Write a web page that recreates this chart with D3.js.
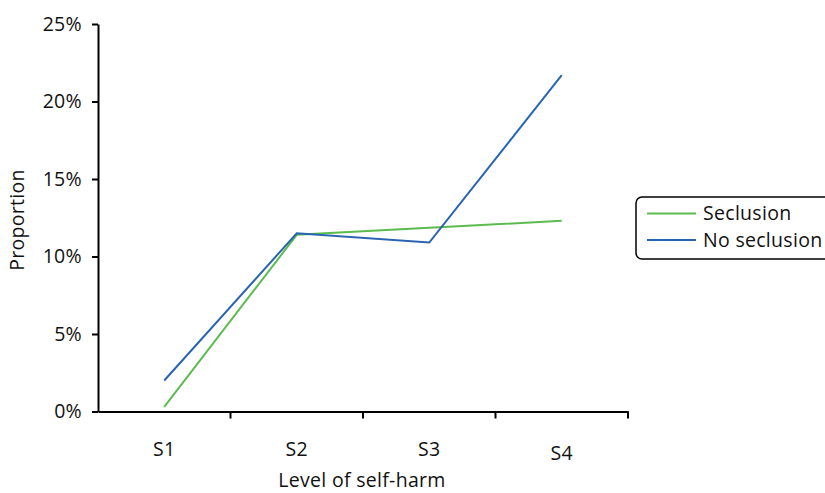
<!DOCTYPE html>
<html><head><meta charset="utf-8">
<script src="https://cdn.jsdelivr.net/npm/d3@7"></script>
<style>body{margin:0;background:#fff}svg{display:block}text{font-family:"Open Sans",sans-serif;fill:#111;letter-spacing:0.3px}</style>
</head><body><svg id="c" width="825" height="493"></svg>
<script>
const categories = ["S1","S2","S3","S4"];
const seclusion = [0.3, 11.4, 11.85, 12.3];
const noSeclusion = [2.0, 11.5, 10.9, 21.7];
const yTicks = [0,5,10,15,20,25];
const seriesNames = ["Seclusion","No seclusion"];
const colors = ["#5cbb4f","#2a64b0"];

const svg = d3.select("#c");
const x = d3.scaleBand().domain(categories).range([98,628]);
const y = d3.scaleLinear().domain([0,25]).range([411.5,24]);
const fs = 19.5;

// y axis
const ya = svg.append("g").attr("transform","translate(98,0)")
  .call(d3.axisLeft(y).tickValues(yTicks).tickFormat(d=>d+"%").tickSize(6).tickSizeOuter(0));
ya.select(".domain").attr("stroke","#000").attr("stroke-width",2);
ya.selectAll(".tick line").attr("stroke","#000").attr("stroke-width",2);
ya.selectAll(".tick text").attr("font-size",fs).attr("x",-16).attr("font-family","Open Sans").attr("fill","#111");

// x axis
const xa = svg.append("g").attr("transform","translate(0,411.5)")
  .call(d3.axisBottom(x).tickSize(0).tickSizeOuter(0));
xa.select(".domain").attr("stroke","#000").attr("stroke-width",2);
xa.selectAll(".tick text").attr("font-size",fs).attr("y",31).attr("font-family","Open Sans").attr("fill","#111")
  .attr("dy",(d,i)=> i===3 ? "0.9em" : "0.71em");
// boundary ticks
const bounds = categories.map(c=>x(c)+x.bandwidth());
xa.selectAll(".bt").data(bounds).enter().append("line").attr("class","bt")
  .attr("x1",d=>d).attr("x2",d=>d).attr("y1",0).attr("y2",7).attr("stroke","#000").attr("stroke-width",2);

// titles
svg.append("text").attr("x",362).attr("y",487).attr("text-anchor","middle").attr("font-size",fs).text("Level of self-harm");
svg.append("text").attr("transform","translate(24,220) rotate(-90)").attr("text-anchor","middle").attr("font-size",fs).text("Proportion");

// lines
const line = d3.line().x((d,i)=>x(categories[i])+x.bandwidth()/2).y(d=>y(d));
[seclusion,noSeclusion].forEach((s,k)=>{
  svg.append("path").datum(s).attr("d",line).attr("fill","none").attr("stroke",colors[k]).attr("stroke-width",2);
});

// legend
const lg = svg.append("g");
lg.append("rect").attr("x",636).attr("y",197).attr("width",200).attr("height",62).attr("rx",6)
  .attr("fill","#fff").attr("stroke","#000").attr("stroke-width",1.5);
seriesNames.forEach((n,k)=>{
  const yy = 213.5 + k*26.5;
  lg.append("line").attr("x1",647).attr("x2",696).attr("y1",yy).attr("y2",yy).attr("stroke",colors[k]).attr("stroke-width",2);
  lg.append("text").attr("x",703).attr("y",yy).attr("dy","0.35em").attr("font-size",fs).text(n);
});
</script></body></html>
